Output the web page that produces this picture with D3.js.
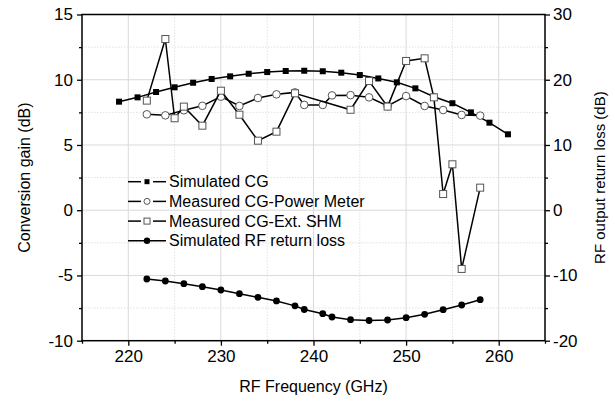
<!DOCTYPE html>
<html><head><meta charset="utf-8">
<script src="https://cdn.jsdelivr.net/npm/d3@7"></script>
<style>body{margin:0;background:#fff}svg{display:block;font-family:"Liberation Sans",Arial,sans-serif}</style>
</head><body><svg id="c" width="615" height="402"></svg>
<script>
// ---- data ----
const simCGFreq = [219,221,223,225,227,229,231,233,235,237,239,241,243,245,247,249,251,253,255,257,259,261];
const simCG = [8.32,8.65,9.06,9.42,9.77,10.06,10.26,10.46,10.59,10.67,10.69,10.65,10.54,10.36,10.1,9.8,9.34,8.7,8.2,7.5,6.71,5.82];
const pmFreq = [222,224,226,228,230,232,234,236,238,239,241,242,244,246,248,250,252,254,256,258];
const pmCG = [7.35,7.27,7.66,8.0,8.7,7.99,8.6,8.88,9.03,8.07,8.07,8.8,8.82,8.65,7.99,8.75,7.99,7.68,7.3,7.25];
const shmFreq = [222,224,225,226,228,230,232,234,236,238,244,246,248,250,252,253,254,255,256,258];
const shmCG = [8.4,13.12,7.05,7.94,6.48,9.16,7.32,5.33,6.02,8.96,7.7,9.9,7.94,11.44,11.64,8.65,1.24,3.52,-4.5,1.73];
const rlFreq = [222,224,226,228,230,232,234,236,238,239,241,242,244,246,248,250,252,254,256,258];
const rlVal = [-10.54,-10.85,-11.26,-11.72,-12.23,-12.79,-13.35,-13.9,-14.66,-15.22,-15.86,-16.37,-16.78,-16.9,-16.83,-16.47,-15.96,-15.25,-14.53,-13.71];
const xTicks = [220,230,240,250,260];
const yLTicks = [-10,-5,0,5,10,15];
const yRTicks = [-20,-10,0,10,20,30];
const legendLabels = ["Simulated CG","Measured CG-Power Meter","Measured CG-Ext. SHM","Simulated RF return loss"];

// ---- layout ----
const L=82,R=545,T=14.5,B=340.7;
const svg=d3.select("#c");
const x=d3.scaleLinear().domain([215,265]).range([L,R]);
const yL=d3.scaleLinear().domain([-10,15]).range([B,T]);
const yR=d3.scaleLinear().domain([-20,30]).range([B,T]);
const fmt=d=>String(d);

// grid
const g=svg.append("g");
const xMinor=d3.range(215,266,5).filter(v=>v%10!==0);
const yMinor=d3.range(-7.5,15,5);
g.selectAll(".vm").data(xMinor).enter().append("line").attr("x1",d=>x(d)).attr("x2",d=>x(d)).attr("y1",T).attr("y2",B).attr("stroke","#e2e2e2").attr("stroke-dasharray","1.5,1.5");
g.selectAll(".hm").data(yMinor).enter().append("line").attr("y1",d=>yL(d)).attr("y2",d=>yL(d)).attr("x1",L).attr("x2",R).attr("stroke","#e2e2e2").attr("stroke-dasharray","1.5,1.5");
g.selectAll(".vM").data(xTicks).enter().append("line").attr("x1",d=>x(d)).attr("x2",d=>x(d)).attr("y1",T).attr("y2",B).attr("stroke","#dadada");
g.selectAll(".hM").data(yLTicks).enter().append("line").attr("y1",d=>yL(d)).attr("y2",d=>yL(d)).attr("x1",L).attr("x2",R).attr("stroke","#dadada");

// axes
const fs="17px";
const ax=svg.append("g").attr("transform",`translate(0,${B})`).call(d3.axisBottom(x).tickValues(xTicks).tickSize(5).tickPadding(4).tickFormat(fmt));
const ax2=svg.append("g").attr("transform",`translate(0,${B})`).call(d3.axisBottom(x).tickValues(xMinor).tickSize(3).tickFormat(""));
const ay=svg.append("g").attr("transform",`translate(${L},0)`).call(d3.axisLeft(yL).tickValues(yLTicks).tickSize(5).tickPadding(4).tickFormat(fmt));
const ay2=svg.append("g").attr("transform",`translate(${L},0)`).call(d3.axisLeft(yL).tickValues(yMinor).tickSize(3).tickFormat(""));
const ar=svg.append("g").attr("transform",`translate(${R},0)`).call(d3.axisRight(yR).tickValues(yRTicks).tickSize(5).tickPadding(3).tickFormat(fmt));
const ar2=svg.append("g").attr("transform",`translate(${R},0)`).call(d3.axisRight(yR).tickValues(d3.range(-15,30,10)).tickSize(3).tickFormat(""));
[ax,ax2,ay,ay2,ar,ar2].forEach(a=>{a.select(".domain").remove();a.selectAll("line").attr("stroke","#000").attr("stroke-width",1.3);a.selectAll("text").attr("font-size",fs).attr("fill","#000").attr("font-family","Liberation Sans, Arial, sans-serif");});
// frame
svg.append("rect").attr("x",L).attr("y",T).attr("width",R-L).attr("height",B-T).attr("fill","none").attr("stroke","#000").attr("stroke-width",1.5);

// axis titles
svg.append("text").attr("transform",`translate(30,${(T+B)/2}) rotate(-90)`).attr("text-anchor","middle").attr("font-size","16px").text("Conversion gain (dB)");
svg.append("text").attr("transform",`translate(605,${(T+B)/2}) rotate(-90)`).attr("text-anchor","middle").attr("font-size","15px").text("RF output return loss (dB)");
svg.append("text").attr("x",(L+R)/2).attr("y",392).attr("text-anchor","middle").attr("font-size","16px").text("RF Frequency (GHz)");

// series
function series(fx,fy,ys,xs,type){
  const pts=xs.map((f,i)=>[fx(f),fy(ys[i])]);
  svg.append("path").attr("d",d3.line()(pts)).attr("fill","none").attr("stroke","#000").attr("stroke-width",1.5);
  const gg=svg.append("g");
  pts.forEach(p=>marker(gg,p[0],p[1],type));
}
function marker(gg,cx,cy,type){
  if(type==="fs") gg.append("rect").attr("x",cx-3).attr("y",cy-3).attr("width",6).attr("height",6).attr("fill","#000");
  else if(type==="os") gg.append("rect").attr("x",cx-3.5).attr("y",cy-3.5).attr("width",7).attr("height",7).attr("fill","#fff").attr("stroke","#555").attr("stroke-width",1);
  else if(type==="oc") gg.append("circle").attr("cx",cx).attr("cy",cy).attr("r",3.8).attr("fill","#fff").attr("stroke","#555").attr("stroke-width",1);
  else gg.append("circle").attr("cx",cx).attr("cy",cy).attr("r",3.4).attr("fill","#000");
}
series(x,yL,simCG,simCGFreq,"fs");
series(x,yL,pmCG,pmFreq,"oc");
series(x,yL,shmCG,shmFreq,"os");
series(x,yR,rlVal,rlFreq,"fc");

// legend
const types=["fs","oc","os","fc"];
const lg=svg.append("g");
legendLabels.forEach((t,i)=>{
  const yy=181.7+i*19.7;
  if(i<3){
    lg.append("line").attr("x1",128).attr("x2",141).attr("y1",yy).attr("y2",yy).attr("stroke","#000").attr("stroke-width",1.5);
    lg.append("line").attr("x1",153).attr("x2",166).attr("y1",yy).attr("y2",yy).attr("stroke","#000").attr("stroke-width",1.5);
  } else {
    lg.append("line").attr("x1",128).attr("x2",166).attr("y1",yy).attr("y2",yy).attr("stroke","#000").attr("stroke-width",1.5);
  }
  const s=lg.append("g");
  if(types[i]==="oc") s.append("circle").attr("cx",147).attr("cy",yy).attr("r",3).attr("fill","#fff").attr("stroke","#555");
  else if(types[i]==="os") s.append("rect").attr("x",144).attr("y",yy-3).attr("width",6).attr("height",6).attr("fill","#fff").attr("stroke","#555");
  else if(types[i]==="fs") s.append("rect").attr("x",144.5).attr("y",yy-2.5).attr("width",5).attr("height",5).attr("fill","#000");
  else s.append("circle").attr("cx",147).attr("cy",yy).attr("r",3.2).attr("fill","#000");
  lg.append("text").attr("x",169).attr("y",yy).attr("dy","0.35em").attr("font-size","16px").text(t);
});
</script></body></html>
